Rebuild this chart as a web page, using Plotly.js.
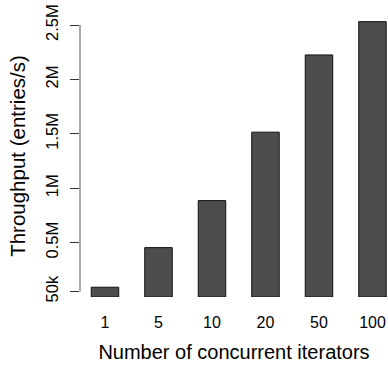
<!DOCTYPE html>
<html>
<head>
<meta charset="utf-8">
<script src="https://cdn.plot.ly/plotly-3.0.1.min.js"></script>
<style>html,body{margin:0;padding:0;background:#fff;}#chart{width:388px;height:366px;}</style>
</head>
<body>
<div id="chart"></div>
<script>
const categories = ["1", "5", "10", "20", "50", "100"];
const throughput = [90000, 454000, 886000, 1515000, 2225000, 2531000];
const yTickVals = [50000, 500000, 1000000, 1500000, 2000000, 2500000];
const yTickText = ["50k", "0.5M", "1M", "1.5M", "2M", "2.5M"];

const FONT = "Liberation Sans, Arial, Helvetica, sans-serif";

const trace = {
  type: "bar",
  x: categories,
  y: throughput,
  marker: { color: "#4d4d4d", line: { color: "#111", width: 1 } },
  hoverinfo: "skip"
};

const layout = {
  width: 388, height: 366,
  margin: { l: 80, r: 0, t: 15, b: 69, pad: 0 },
  paper_bgcolor: "#fff", plot_bgcolor: "#fff",
  showlegend: false,
  bargap: 0.486,
  font: { family: FONT, color: "#000" },
  xaxis: {
    type: "category",
    range: [-0.467, 5.29],
    showline: false, showgrid: false, zeroline: false,
    ticks: "", tickfont: { size: 16, family: FONT },
    ticklabelstandoff: 14,
    title: { text: "Number of concurrent iterators", font: { size: 20, family: FONT }, standoff: 14 }
  },
  yaxis: {
    range: [0, 2592000],
    showline: false, showgrid: false, zeroline: false,
    tickmode: "array", tickvals: yTickVals, ticktext: yTickText,
    ticks: "outside", ticklen: 9, tickwidth: 1, tickcolor: "#333",
    tickangle: -90, tickfont: { size: 16.5, family: FONT },
    ticklabelstandoff: 5,
    title: { text: "Throughput (entries/s)", font: { size: 20.5, family: FONT }, standoff: 12 }
  },
  shapes: [{
    type: "line", xref: "paper", yref: "y",
    x0: 0, x1: 0, y0: yTickVals[0], y1: yTickVals[yTickVals.length - 1],
    line: { color: "#555", width: 1 }
  }]
};

Plotly.newPlot("chart", [trace], layout, { displayModeBar: false, staticPlot: true });
</script>
</body>
</html>
